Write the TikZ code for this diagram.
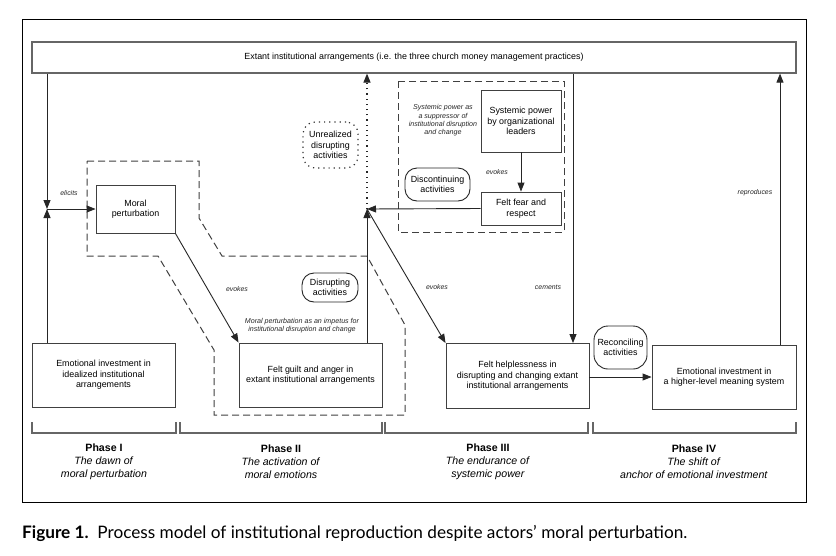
\documentclass[tikz,border=0pt]{standalone}
\usepackage{fontspec}
\setmainfont{Liberation Sans}
\newfontfamily\capfont{Lato}
\usetikzlibrary{arrows.meta}
\begin{document}
\begin{tikzpicture}[x=1pt,y=-1pt,
  box/.style={draw=black!75, line width=0.9pt, align=center, font=\fontsize{8.9}{10.4}\selectfont, inner sep=1pt},
  act/.style={draw=black!85, line width=0.9pt, rounded corners=12pt, align=center, font=\fontsize{8.9}{10.4}\selectfont, inner sep=1pt},
  arr/.style={draw=black!85, line width=0.9pt, -{Triangle[length=9pt,width=7pt]}},
  lab/.style={font=\itshape\fontsize{6.9}{8}\selectfont, text=black!85},
  note/.style={font=\itshape\fontsize{7.1}{8.3}\selectfont, align=center, text=black!85},
  dsh/.style={draw=black!75, line width=1pt, dash pattern=on 7pt off 4pt},
  dots/.style={line width=1.2pt, dash pattern=on 1.2pt off 4pt},
  brk/.style={draw=black!60, line width=1.1pt},
  phase/.style={align=center, font=\fontsize{10.6}{12.8}\selectfont}
]
\useasboundingbox (0,0) rectangle (836,555);
\fill[white] (0,0) rectangle (836,555);
% outer frame
\draw[black, line width=1pt] (22,19) rectangle (806,502);

% dashed regions
\draw[dsh] (87,161) -- (199,161) -- (199,218) -- (222,256) -- (367,256) -- (405,325) -- (405,415) -- (214,415) -- (214,350) -- (158,256) -- (87,256) -- cycle;
\draw[dsh] (398,81) rectangle (564,232);

% nodes
\node[box, draw=black!60, line width=1.2pt, minimum width=764pt, minimum height=31pt] (top) at (414,57.5) {Extant institutional arrangements (i.e. the three church money management practices)};
\node[box, minimum width=79pt, minimum height=48pt] (mp) at (135.5,209) {Moral\\perturbation};
\node[box, minimum width=143pt, minimum height=64pt] (ei) at (103.5,375) {Emotional investment in\\idealized institutional\\arrangements};
\node[box, minimum width=143pt, minimum height=64pt] (fg) at (310.5,375) {Felt guilt and anger in\\extant institutional arrangements};
\node[box, minimum width=143pt, minimum height=65pt] (fh) at (517.5,376) {Felt helplessness in\\disrupting and changing extant\\institutional arrangements};
\node[box, minimum width=144pt, minimum height=64pt] (eh) at (724,377) {Emotional investment in\\a higher-level meaning system};
\node[box, minimum width=80pt, minimum height=62pt] (sp) at (521,121) {Systemic power\\by organizational\\leaders};
\node[box, minimum width=80pt, minimum height=33pt] (ff) at (521,208.5) {Felt fear and\\respect};
\node[act, minimum width=65pt, minimum height=33pt] (da) at (437.5,184.5) {Discontinuing\\activities};
\node[act, draw=black!80, dots, minimum width=55pt, minimum height=46pt] (ua) at (330.5,145) {Unrealized\\disrupting\\activities};
\node[act, minimum width=56pt, minimum height=29pt] (dis) at (330,287.5) {Disrupting\\activities};
\node[act, rounded corners=14pt, minimum width=53pt, minimum height=43pt] (rec) at (620.5,347.5) {Reconciling\\activities};

% notes
\node[note] (n1) at (443,120.5) {Systemic power as\\a suppressor of\\institutional disruption\\and change};
\node[note] (n2) at (302,326) {Moral perturbation as an impetus for\\institutional disruption and change};

% junctions
\coordinate (J1) at (47,209);
\coordinate (J2) at (367,209);

% connectors
\draw[arr] (top.south -| J1) -- (J1);
\draw[arr] (ei.north -| J1) -- (J1);
\draw[arr] (J1) -- (mp.west);
\node[lab] (l1) at (69,193) {elicits};
\draw[arr] (mp.south east) -- (fg.north west);
\node[lab] (l2) at (237,289) {evokes};
\draw[arr] (fg.north -| J2) -- (J2);
\draw[arr] (ff.west) -- (J2);
\draw[arr] (J2) -- (fh.north west);
\node[lab] (l3) at (437,287) {evokes};
\draw[arr, dots] (J2) -- (top.south -| J2);
\draw[arr] (sp.south) -- (ff.north);
\node[lab] (l4) at (497,172) {evokes};
\coordinate (C1) at (573,0);
\draw[arr] (top.south -| C1) -- (fh.north -| C1);
\node[lab] (l5) at (548,287) {cements};
\draw[arr] (fh.east |- eh.west) -- (eh.west);
\coordinate (C2) at (780,0);
\draw[arr] (eh.north -| C2) -- (top.south -| C2);
\node[lab] (l6) at (755,193) {reproduces};

% phase brackets
\draw[brk] (32,422) -- (32,433) -- (176,433) -- (176,422);
\draw[brk] (180,422) -- (180,433) -- (382,433) -- (382,422);
\draw[brk] (385,422) -- (385,433) -- (588,433) -- (588,422);
\draw[brk] (593,422) -- (593,433) -- (796,433) -- (796,422);

\node[phase] (p1) at (104,462) {\textbf{Phase I}\\\textit{The dawn of}\\\textit{moral perturbation}};
\node[phase] (p2) at (281,462) {\textbf{Phase II}\\\textit{The activation of}\\\textit{moral emotions}};
\node[phase] (p3) at (488,462) {\textbf{Phase III}\\\textit{The endurance of}\\\textit{systemic power}};
\node[phase] (p4) at (694,462) {\textbf{Phase IV}\\\textit{The shift of}\\\textit{anchor of emotional investment}};

% caption
\node[anchor=west, inner sep=0pt, font=\capfont\fontsize{17.2}{19}\selectfont] (cap) at (22,533) {\textbf{Figure 1.}\ \ Process model of institutional reproduction despite actors’ moral perturbation.};
\end{tikzpicture}
\end{document}
